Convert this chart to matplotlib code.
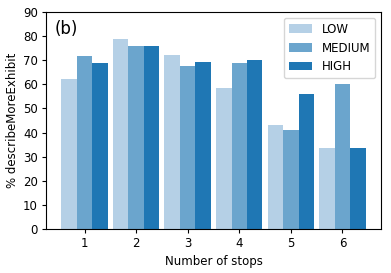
import numpy as np
import matplotlib.pyplot as plt

stops = [1, 2, 3, 4, 5, 6]
low = [62.2, 78.8, 72.2, 58.5, 43.1, 33.6]
medium = [71.8, 75.9, 67.6, 68.9, 41.1, 60.1]
high = [68.9, 75.9, 69.3, 70.1, 56.0, 33.6]
labels = ["LOW", "MEDIUM", "HIGH"]
colors = ["#b5d0e6", "#6ba5cd", "#1f77b4"]

plt.rcParams["font.size"] = 8.5
plt.rcParams["xtick.major.pad"] = 3
plt.rcParams["ytick.major.pad"] = 3
plt.rcParams["xtick.major.size"] = 3
plt.rcParams["ytick.major.size"] = 3
plt.rcParams["axes.labelpad"] = 3

fig = plt.figure(figsize=(3.91, 2.73), dpi=100)
ax = fig.add_axes([0.118, 0.161, 0.856, 0.795])

x = np.array(stops)
w = 0.3
for i, (vals, lab) in enumerate(zip([low, medium, high], labels)):
    ax.bar(x + (i - 1) * w, vals, w, color=colors[i], label=lab)

ax.set_ylim(0, 90)
ax.set_yticks(range(0, 91, 10))
ax.set_xticks(stops)
ax.set_xlabel("Number of stops")
ax.set_ylabel("% describeMoreExhibit")
ax.text(0.025, 0.965, "(b)", transform=ax.transAxes, fontsize=12, va="top")
ax.legend(loc="upper right")

fig.savefig("out.png", dpi=100)
